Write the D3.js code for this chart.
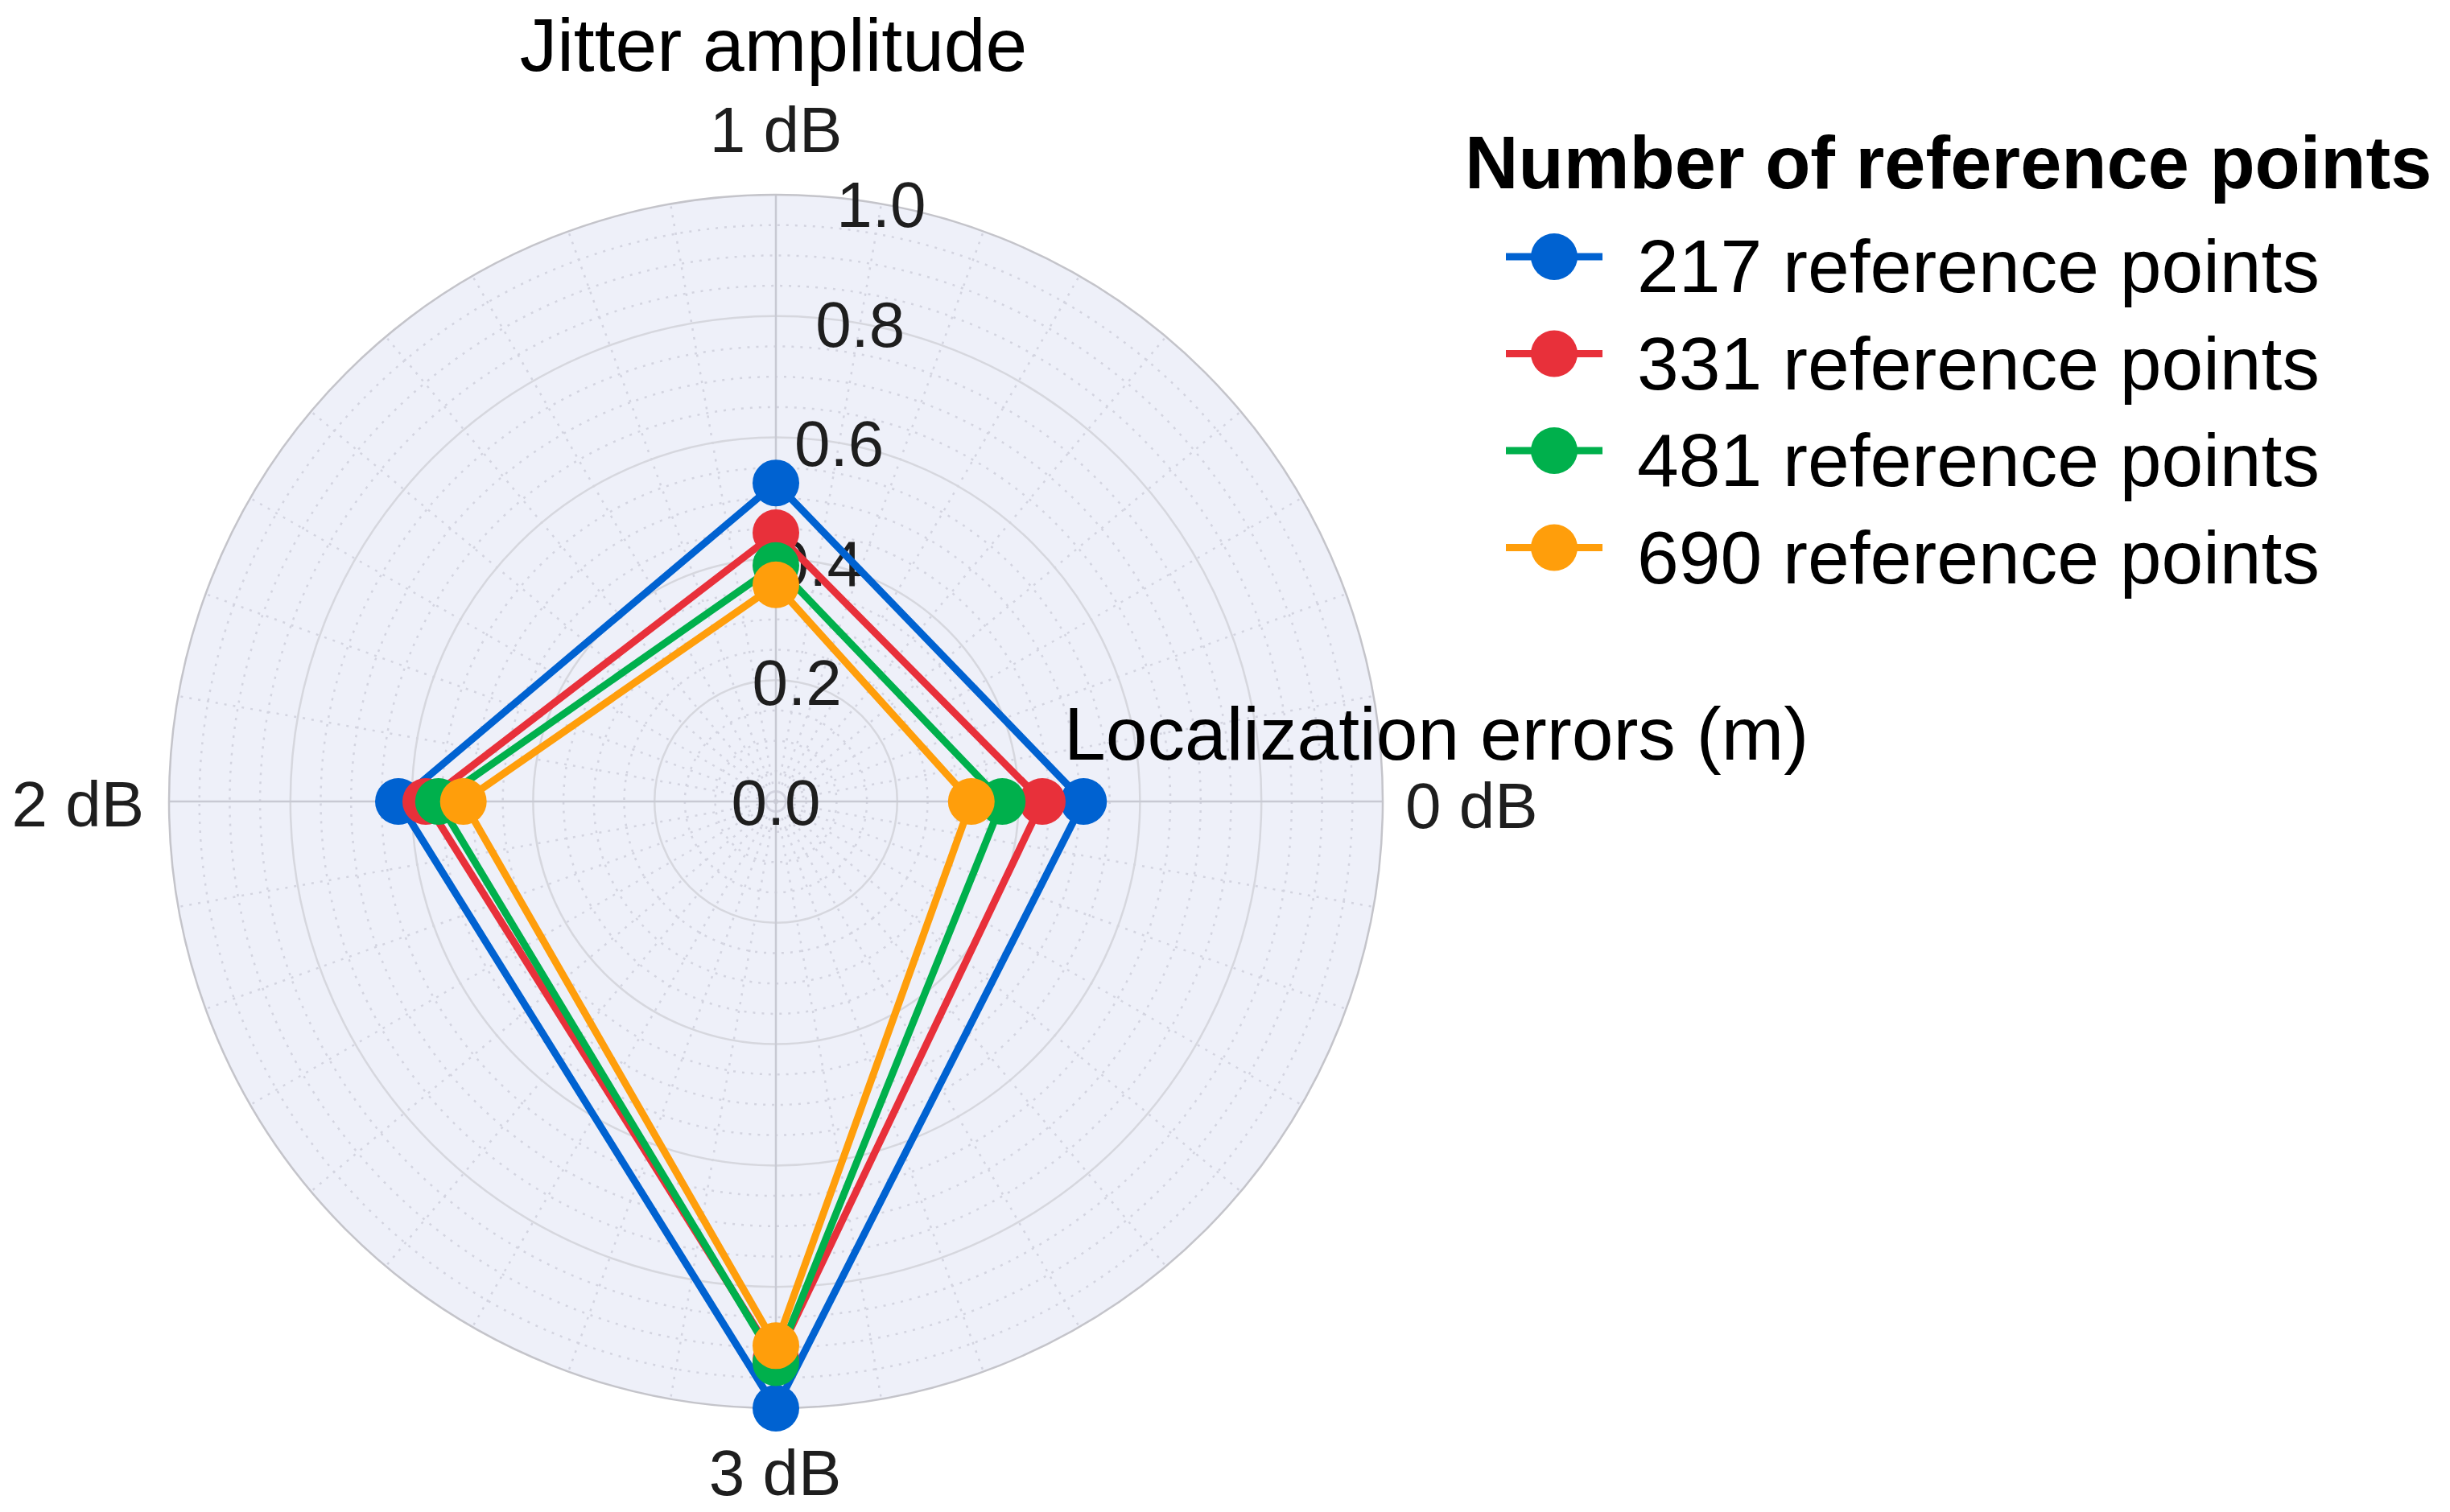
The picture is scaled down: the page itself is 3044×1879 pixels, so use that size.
<!DOCTYPE html>
<html>
<head>
<meta charset="utf-8">
<script src="https://cdn.jsdelivr.net/npm/d3@7"></script>
<style>
  html, body { margin: 0; padding: 0; background: #fff; }
  svg { display: block; }
  text { font-family: "Liberation Sans", Arial, sans-serif; }
</style>
</head>
<body>
<svg id="chart" width="3044" height="1879"></svg>
<script>
// categories around the circle (counter-clockwise from the right)
var categories = ["0 dB", "1 dB", "2 dB", "3 dB"];
var seriesNames = ["217 reference points", "331 reference points", "481 reference points", "690 reference points"];
var seriesColors = ["#0062d1", "#e8303a", "#00b04c", "#ff9e0b"];
// localization errors (m), one value per category
var pts217 = [0.507, 0.525, 0.622, 1.0];
var pts331 = [0.439, 0.443, 0.577, 0.92];
var pts481 = [0.373, 0.389, 0.556, 0.925];
var pts690 = [0.322, 0.357, 0.515, 0.897];
var radialTicks = [0, 0.2, 0.4, 0.6, 0.8, 1.0];

var allSeries = [pts217, pts331, pts481, pts690];

var svg = d3.select("#chart");
var cx = 964, cy = 996, R = 754;

var r = d3.scaleLinear().domain([0, 1]).range([0, R]);
// angle for d3.lineRadial: 0 = up, clockwise. category i sits 90 deg * i counter-clockwise from right
var ang = d3.scaleOrdinal().domain(categories)
  .range(categories.map(function(c, i){ return Math.PI / 2 - i * Math.PI / 2; }));

var g = svg.append("g").attr("transform", "translate(" + cx + "," + cy + ")");

// background disc
g.append("circle").attr("r", r(1)).attr("fill", "#eef0f9");

// minor dotted rings every 0.05
var minorRings = d3.range(1, 20).map(function(d){ return d * 0.05; })
  .filter(function(d){ return Math.abs(d / 0.2 - Math.round(d / 0.2)) > 1e-6; });
g.selectAll(".minorRing").data(minorRings).enter().append("circle")
  .attr("r", function(d){ return r(d); })
  .attr("fill", "none")
  .attr("stroke", "#d3d4e0")
  .attr("stroke-width", 2.5)
  .attr("stroke-dasharray", "3,8");

// minor dotted spokes every 10 deg
var minorSpokes = d3.range(0, 360, 10).filter(function(d){ return d % 90 !== 0; });
g.selectAll(".minorSpoke").data(minorSpokes).enter().append("line")
  .attr("x1", 0).attr("y1", 0)
  .attr("x2", function(d){ return r(1) * Math.cos(d * Math.PI / 180); })
  .attr("y2", function(d){ return -r(1) * Math.sin(d * Math.PI / 180); })
  .attr("stroke", "#d3d4e0")
  .attr("stroke-width", 2.5)
  .attr("stroke-dasharray", "3,8");

// major rings
g.selectAll(".ring").data([0.2, 0.4, 0.6, 0.8]).enter().append("circle")
  .attr("r", function(d){ return r(d); })
  .attr("fill", "none")
  .attr("stroke", "#d6d7de")
  .attr("stroke-width", 2.5);

// category spokes
g.selectAll(".spoke").data(categories).enter().append("line")
  .attr("x1", 0).attr("y1", 0)
  .attr("x2", function(d){ return r(1) * Math.sin(ang(d)); })
  .attr("y2", function(d){ return -r(1) * Math.cos(ang(d)); })
  .attr("stroke", "#c8c9d3")
  .attr("stroke-width", 2.5);

// outer border
g.append("circle").attr("r", r(1)).attr("fill", "none").attr("stroke", "#c4c4ca").attr("stroke-width", 2.5);

// radial tick labels along the 80 deg direction
var tickAngle = 80 * Math.PI / 180;
g.selectAll(".rtick").data(radialTicks).enter().append("text")
  .attr("x", function(d){ return r(d) * Math.cos(tickAngle); })
  .attr("y", function(d){ return -r(d) * Math.sin(tickAngle); })
  .attr("text-anchor", "middle")
  .attr("dy", "0.36em")
  .attr("font-size", 80)
  .attr("fill", "#1e1e1e")
  .text(function(d){ return d3.format(".1f")(d); });

// series
var line = d3.lineRadial()
  .angle(function(d, i){ return ang(categories[i]); })
  .radius(function(d){ return r(d); })
  .curve(d3.curveLinearClosed);

allSeries.forEach(function(vals, k){
  var sg = g.append("g");
  sg.append("path")
    .attr("d", line(vals))
    .attr("fill", "none")
    .attr("stroke", seriesColors[k])
    .attr("stroke-width", 9)
    .attr("stroke-linejoin", "round");
  sg.selectAll("circle").data(vals).enter().append("circle")
    .attr("cx", function(d, i){ return r(d) * Math.sin(ang(categories[i])); })
    .attr("cy", function(d, i){ return -r(d) * Math.cos(ang(categories[i])); })
    .attr("r", 29)
    .attr("fill", seriesColors[k]);
});

// category labels
var catLabelPos = {
  "0 dB": {x: 1746, y: 1029, anchor: "start"},
  "1 dB": {x: 964, y: 189, anchor: "middle"},
  "2 dB": {x: 179, y: 1027, anchor: "end"},
  "3 dB": {x: 963, y: 1858, anchor: "middle"}
};
svg.selectAll(".cat").data(categories).enter().append("text")
  .attr("x", function(d){ return catLabelPos[d].x; })
  .attr("y", function(d){ return catLabelPos[d].y; })
  .attr("text-anchor", function(d){ return catLabelPos[d].anchor; })
  .attr("font-size", 80)
  .attr("fill", "#1e1e1e")
  .text(function(d){ return d; });

// axis titles
svg.append("text").attr("x", 961).attr("y", 88).attr("text-anchor", "middle")
  .attr("font-size", 93).attr("fill", "#000").text("Jitter amplitude");
svg.append("text").attr("x", 1322).attr("y", 944).attr("text-anchor", "start")
  .attr("font-size", 93).attr("fill", "#000").text("Localization errors (m)");

// legend
var legend = svg.append("g");
legend.append("text").attr("x", 1820).attr("y", 234)
  .attr("font-size", 92).attr("font-weight", "bold").attr("fill", "#000")
  .text("Number of reference points");
var rows = legend.selectAll(".row").data(seriesNames).enter().append("g")
  .attr("transform", function(d, i){ return "translate(0," + (319 + i * 120.5) + ")"; });
rows.append("line").attr("x1", 1871).attr("x2", 1991).attr("y1", 0).attr("y2", 0)
  .attr("stroke", function(d, i){ return seriesColors[i]; }).attr("stroke-width", 9);
rows.append("circle").attr("cx", 1931).attr("cy", 0).attr("r", 29)
  .attr("fill", function(d, i){ return seriesColors[i]; });
rows.append("text").attr("x", 2034).attr("y", 44)
  .attr("font-size", 93).attr("fill", "#000")
  .text(function(d){ return d; });
</script>
</body>
</html>
